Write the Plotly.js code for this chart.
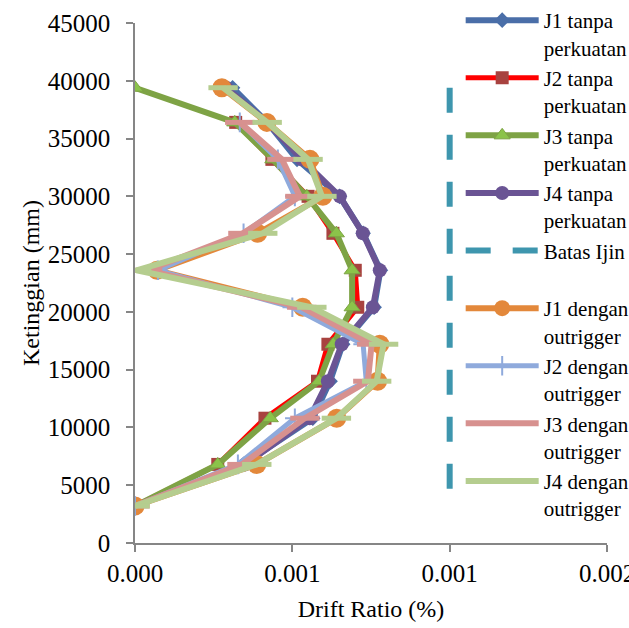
<!DOCTYPE html>
<html>
<head>
<meta charset="utf-8">
<script src="https://cdn.plot.ly/plotly-3.0.1.min.js"></script>
<style>html,body{margin:0;padding:0;background:#fff;}#chart{width:629px;height:628px;}</style>
</head>
<body>
<div id="chart"></div>
<script>
var heights = [3200, 6800, 10800, 14000, 17200, 20400, 23600, 26800, 30000, 33200, 36400, 39400];
var j1Tanpa = [0, 0.000345, 0.000565, 0.000620, 0.000660, 0.000760, 0.000780, 0.000725, 0.000650, 0.000515, 0.000420, 0.000310];
var j2Tanpa = [0, 0.000263, 0.000413, 0.000580, 0.000613, 0.000708, 0.000700, 0.000629, 0.000550, 0.000435, 0.000320, null];
var j3Tanpa = [0, 0.000263, 0.000430, 0.000585, 0.000630, 0.000690, 0.000690, 0.000640, 0.000546, 0.000438, 0.000317, 0];
var j4Tanpa = [0, 0.000350, 0.000555, 0.000613, 0.000657, 0.000756, 0.000778, 0.000724, 0.000651, 0.000530, 0.000420, 0.000290];
var j1Dengan = [0, 0.000387, 0.000641, 0.000771, 0.000778, 0.000533, 0.000070, 0.000390, 0.000597, 0.000556, 0.000419, 0.000276];
var j2Dengan = [0, 0.000327, 0.000508, 0.000735, 0.000725, 0.000500, 0.000073, 0.000345, 0.000508, 0.000454, 0.000333, null];
var j3Dengan = [0, 0.000340, 0.000540, 0.000740, 0.000752, 0.000530, 0.000040, 0.000343, 0.000524, 0.000467, 0.000333, null];
var j4Dengan = [0, 0.000387, 0.000640, 0.000768, 0.000790, 0.000562, 0.000005, 0.000406, 0.000594, 0.000550, 0.000420, 0.000280];
var batasX = [0.001, 0.001];
var batasY = [39400, 3200];
var xTickVals = [0, 0.0005, 0.001, 0.0015];
var yTickVals = [0, 5000, 10000, 15000, 20000, 25000, 30000, 35000, 40000, 45000];

function tr(name, x, y, lineColor, width, marker) {
  return {type: 'scatter', mode: 'lines+markers', name: name, x: x, y: y,
    line: {color: lineColor, width: width}, marker: marker, connectgaps: false};
}
var data = [
  tr('J1 tanpa<br>perkuatan', j1Tanpa, heights, '#4A6EA8', 6, {symbol: 'diamond', size: 12, color: '#4A6EA8'}),
  tr('J2 tanpa<br>perkuatan', j2Tanpa, heights, '#FF0000', 5, {symbol: 'square', size: 13, color: '#A8423F'}),
  tr('J3 tanpa<br>perkuatan', j3Tanpa, heights, '#7EA345', 6, {symbol: 'triangle-up', size: 14, color: '#8BC34A', line: {color: '#7EA345', width: 1}}),
  tr('J4 tanpa<br>perkuatan', j4Tanpa, heights, '#6A5494', 6, {symbol: 'circle', size: 14, color: '#6A5494'}),
  {type: 'scatter', mode: 'lines', name: 'Batas Ijin<br>&nbsp;', x: batasX, y: batasY,
    line: {color: '#3E96AE', width: 6, dash: '25px,22px'}},
  tr('J1 dengan<br>outrigger', j1Dengan, heights, '#E3883B', 6, {symbol: 'circle', size: 19, color: '#E3883B'}),
  tr('J2 dengan<br>outrigger', j2Dengan, heights, '#8FAADC', 5, {symbol: 'cross-thin', size: 14, color: '#8FAADC', line: {color: '#8FAADC', width: 2}}),
  tr('J3 dengan<br>outrigger', j3Dengan, heights, '#D7918F', 6, {symbol: 'line-ew', size: 21, color: '#D7918F', line: {color: '#D7918F', width: 5}}),
  tr('J4 dengan<br>outrigger', j4Dengan, heights, '#B5CD8F', 6, {symbol: 'line-ew', size: 21, color: '#B5CD8F', line: {color: '#B5CD8F', width: 5}})
];

var font = 'Liberation Serif';
var layout = {
  width: 629, height: 628,
  margin: {l: 135, r: 22, t: 23, b: 85, autoexpand: false},
  paper_bgcolor: '#fff', plot_bgcolor: '#fff',
  font: {family: font, color: '#000', size: 24},
  showlegend: true,
  legend: {xref: 'paper', yref: 'container', x: 0.690, xanchor: 'left', y: 1.0, yanchor: 'top', bgcolor: 'rgba(0,0,0,0)',
    font: {family: font, size: 21, color: '#000'}, itemwidth: 73, valign: 'top', tracegroupgap: 0, maxheight: 628},
  xaxis: {range: [0, 0.0015], tickvals: xTickVals, tickformat: '.3f', showgrid: false, zeroline: false,
    showline: true, linecolor: '#868686', linewidth: 1.5, ticks: 'outside', ticklen: 7, tickcolor: '#868686', tickwidth: 1.5,
    tickfont: {family: font, size: 25, color: '#000'}, ticklabeloverflow: 'allow',
    title: {text: 'Drift Ratio (%)', font: {family: font, size: 24, color: '#000'}, standoff: 14}},
  yaxis: {range: [0, 45000], tickvals: yTickVals, tickformat: 'd', showgrid: false, zeroline: false,
    showline: true, linecolor: '#868686', linewidth: 1.5, ticks: 'outside', ticklen: 7, tickcolor: '#868686', tickwidth: 1.5,
    tickfont: {family: font, size: 25, color: '#000'}, ticklabelstandoff: 11,
    title: {text: 'Ketinggian (mm)', font: {family: font, size: 24, color: '#000'}, standoff: 1}}
};
Plotly.newPlot('chart', data, layout, {displayModeBar: false, responsive: false});
</script>
</body>
</html>
